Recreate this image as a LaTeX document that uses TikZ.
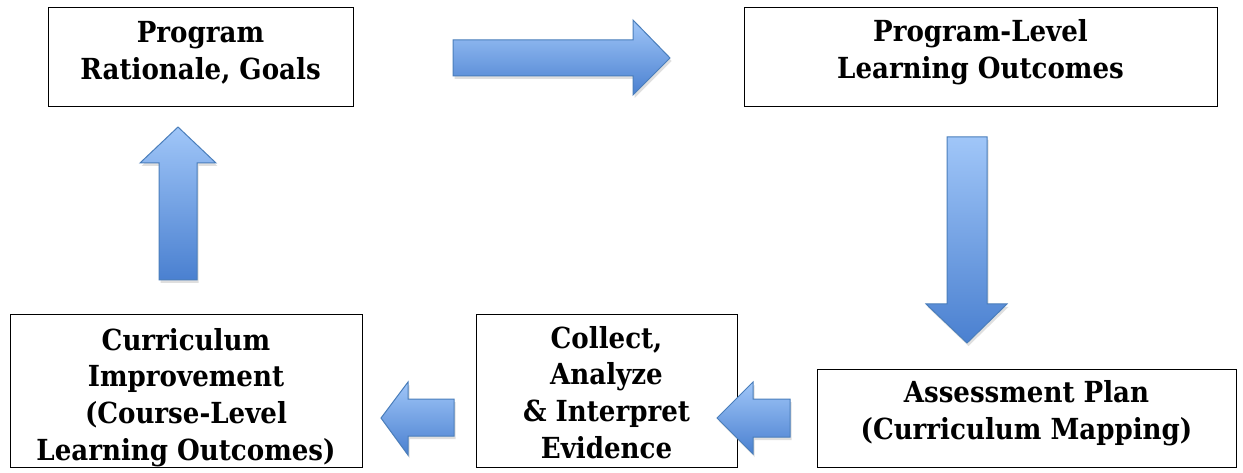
\documentclass[tikz,border=0pt]{standalone}
\usepackage{fontspec}
\setmainfont{DejaVu Serif Condensed}
\usetikzlibrary{shadows}
\definecolor{arrtop}{HTML}{A0C6F8}
\definecolor{arrbot}{HTML}{4A80D0}
\definecolor{arredge}{HTML}{4A7EBB}
\begin{document}
\begin{tikzpicture}[x=1pt,y=-1pt,
  box/.style={draw=black, line width=1pt, inner sep=0pt},
  lbl/.style={align=center, inner sep=0pt, font=\bfseries\fontsize{29}{36.8}\selectfont},
  blockarrow/.style={draw=arredge, line width=1pt, top color=arrtop, bottom color=arrbot,
    line join=miter, drop shadow={shadow xshift=1.5pt, shadow yshift=-3pt, opacity=0.25}}]
\useasboundingbox (0,0) rectangle (1243,473);
\fill[white] (0,0) rectangle (1243,473);
% boxes
\node[box, minimum width=305pt, minimum height=99pt] (goals) at (200.5,57.5) {};
\node[box, minimum width=473pt, minimum height=99pt] (plo) at (980.5,57.5) {};
\node[box, minimum width=419pt, minimum height=98pt] (plan) at (1026.5,418) {};
\node[box, minimum width=261pt, minimum height=153pt] (collect) at (606.5,390.5) {};
\node[box, minimum width=352pt, minimum height=153pt] (improve) at (186,390.5) {};
% labels
\node[lbl] (goalsT) at ([yshift=5pt]goals.center) {Program\\Rationale, Goals};
\node[lbl] (ploT) at ([yshift=5pt]plo.center) {Program-Level\\Learning Outcomes};
\node[lbl] (planT) at ([yshift=5pt]plan.center) {Assessment Plan\\(Curriculum Mapping)};
\node[lbl] (collectT) at ([yshift=-2pt]collect.center) {Collect,\\Analyze\\\&~Interpret\\Evidence};
\node[lbl] (improveT) at ([yshift=-7pt]improve.center) {Curriculum\\Improvement\\(Course-Level\\Learning Outcomes)};
% block arrows
\path[blockarrow] (453,40) -- (633,40) -- (633,20) -- (670,58) -- (633,95) -- (633,76) -- (453,76) -- cycle;
\path[blockarrow] (947,137) -- (987,137) -- (987,304) -- (1007,304) -- (967,343) -- (926,304) -- (947,304) -- cycle;
\path[blockarrow] (790,399) -- (753,399) -- (753,382) -- (717,418) -- (753,454) -- (753,437) -- (790,437) -- cycle;
\path[blockarrow] (454,399) -- (408,399) -- (408,382) -- (381,418) -- (408,455) -- (408,436) -- (454,436) -- cycle;
\path[blockarrow] (159,280) -- (159,163) -- (140,163) -- (178,127) -- (216,163) -- (197,163) -- (197,280) -- cycle;
\end{tikzpicture}
\end{document}
